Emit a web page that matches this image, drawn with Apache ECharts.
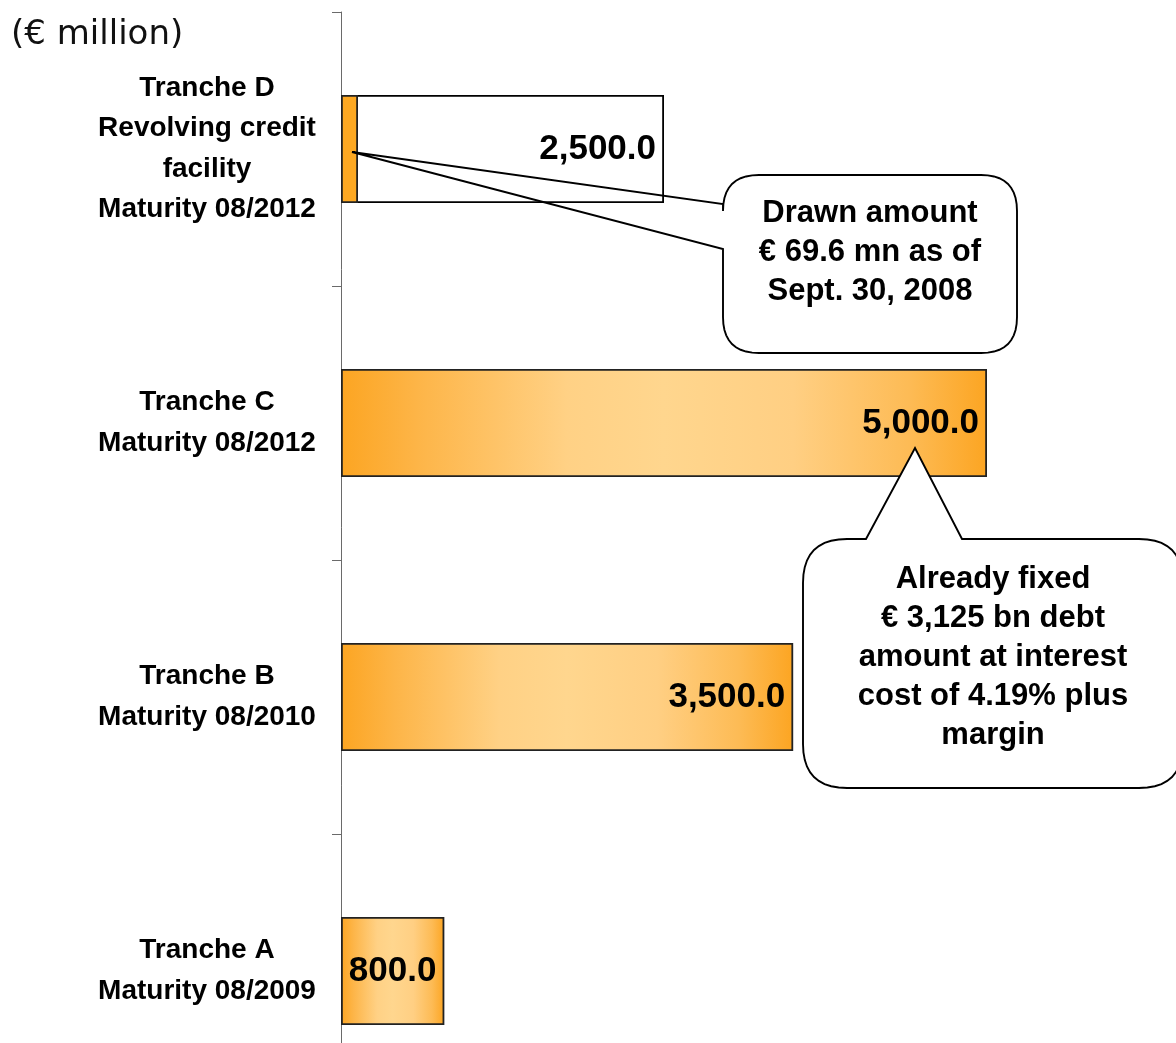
<!DOCTYPE html>
<html>
<head>
<meta charset="utf-8">
<script src="https://cdn.jsdelivr.net/npm/echarts@6/dist/echarts.min.js"></script>
<style>
html,body{margin:0;padding:0;background:#fff;}
#chart{width:1176px;height:1043px;}
</style>
</head>
<body>
<div id="chart"></div>
<script>
// ---- data ----
const categories = [
  'Tranche A\nMaturity 08/2009',
  'Tranche B\nMaturity 08/2010',
  'Tranche C\nMaturity 08/2012',
  'Tranche D\nRevolving credit\nfacility\nMaturity 08/2012'
];
const facilityAmounts = [800.0, 3500.0, 5000.0, 2500.0];
const drawnAmounts = [null, null, null, 69.6];
const unitLabel = '(€ million)';
const callout1Lines = ['Drawn amount', '€ 69.6 mn as of', 'Sept. 30, 2008'];
const callout2Lines = ['Already fixed', '€ 3,125 bn debt', 'amount at interest', 'cost of 4.19% plus', 'margin'];

const FONT = '"Liberation Sans", Arial, Helvetica, sans-serif';
const orangeGrad = {
  type: 'linear', x: 0, y: 0, x2: 1, y2: 0,
  colorStops: [
    {offset: 0, color: '#FCA522'},
    {offset: 0.12, color: '#FDB548'},
    {offset: 0.35, color: '#FFD185'},
    {offset: 0.5, color: '#FFD68E'},
    {offset: 0.7, color: '#FFCF83'},
    {offset: 0.88, color: '#FDBB55'},
    {offset: 1, color: '#FCA522'}
  ]
};
function fmt(v) {
  return v.toLocaleString('en-US', {minimumFractionDigits: 1, maximumFractionDigits: 1});
}

const chart = echarts.init(document.getElementById('chart'), null, {renderer: 'canvas'});
chart.setOption({
  animation: false,
  backgroundColor: '#fff',
  title: {
    text: unitLabel, left: 6, top: 13,
    textStyle: {fontFamily: '"DejaVu Sans", sans-serif', fontSize: 34, fontWeight: 'normal', color: '#111'}
  },
  grid: {left: 341, top: 12, width: 775.2, height: 1096, containLabel: false, outerBoundsMode: 'none'},
  xAxis: {type: 'value', min: 0, max: 6000, show: false},
  yAxis: {
    type: 'category', data: categories,
    axisLine: {show: true, lineStyle: {color: '#6a6a6a', width: 1}},
    axisTick: {show: true, length: 9, lineStyle: {color: '#6a6a6a'}},
    axisLabel: {
      margin: 134, align: 'center', color: '#000', padding: [5, 0, 0, 0],
      fontFamily: FONT, fontWeight: 'bold', fontSize: 28, lineHeight: 40.5
    },
    splitLine: {show: false}
  },
  series: [
    {
      name: 'Facility', type: 'bar', barWidth: 108, barGap: '-100%',
      data: facilityAmounts.map((v, i) => ({
        value: v,
        itemStyle: i === 3 ? {color: '#fff', borderColor: '#000', borderWidth: 1.8}
                           : {color: orangeGrad, borderColor: '#222', borderWidth: 1.8}
      })),
      label: {
        show: true, position: 'insideRight', distance: 8,
        formatter: p => fmt(p.value),
        fontFamily: FONT, fontWeight: 'bold', fontSize: 35, color: '#000'
      },
      z: 2
    },
    {
      name: 'Drawn', type: 'bar', barWidth: 108, barGap: '-100%', barMinHeight: 17,
      data: drawnAmounts.map(v => v == null ? '-' : v),
      itemStyle: {color: '#FDA822', borderColor: '#222', borderWidth: 1.8},
      z: 3
    }
  ]
});

// ---- callouts anchored to data positions ----
const P = (x, cat) => chart.convertToPixel({gridIndex: 0}, [x, cat]);
const pD = P(0, categories[3]);
const pC = P(facilityAmounts[2], categories[2]);

// quadratic corner sampler
function corner(pts, a, c, b) {
  for (let k = 1; k <= 10; k++) {
    const t = k / 10, u = 1 - t;
    pts.push([u * u * a[0] + 2 * u * t * c[0] + t * t * b[0], u * u * a[1] + 2 * u * t * c[1] + t * t * b[1]]);
  }
}
// rounded rect outline, clockwise from top-left, with optional wedge on left or top side
function bubble(x0, y0, x1, y1, r, wedge) {
  const pts = [];
  pts.push([x0 + r, y0]);
  if (wedge && wedge.side === 'top') {
    pts.push([wedge.a, y0], [wedge.tx, wedge.ty], [wedge.b, y0]);
  }
  pts.push([x1 - r, y0]);
  corner(pts, [x1 - r, y0], [x1, y0], [x1, y0 + r]);
  pts.push([x1, y1 - r]);
  corner(pts, [x1, y1 - r], [x1, y1], [x1 - r, y1]);
  pts.push([x0 + r, y1]);
  corner(pts, [x0 + r, y1], [x0, y1], [x0, y1 - r]);
  if (wedge && wedge.side === 'left') {
    pts.push([x0, wedge.b], [wedge.tx, wedge.ty], [x0, wedge.a]);
  }
  pts.push([x0, y0 + r]);
  corner(pts, [x0, y0 + r], [x0, y0], [x0 + r, y0]);
  return pts;
}

// callout 1 (relative to Tranche D centre on the axis)
const t1 = [pD[0] + 11, pD[1] + 3];
const b1 = {x0: pD[0] + 382, y0: pD[1] + 26, x1: pD[0] + 676, y1: pD[1] + 204};
// callout 2 (relative to Tranche C bar end)
const t2 = [pC[0] - 72, pC[1] + 25];
const b2 = {x0: pC[0] - 184, y0: pC[1] + 116, x1: pC[0] + 196, y1: pC[1] + 365};

chart.setOption({
  graphic: [
    {
      type: 'polygon', z: 100,
      shape: {points: bubble(b1.x0, b1.y0, b1.x1, b1.y1, 36,
        {side: 'left', a: b1.y0 + 29, b: b1.y0 + 74, tx: t1[0], ty: t1[1]})},
      style: {fill: 'rgba(255,255,255,0)', stroke: '#000', lineWidth: 1.9}
    },
    {
      type: 'text', z: 101,
      style: {
        text: callout1Lines.join('\n'), x: (b1.x0 + b1.x1) / 2, y: b1.y0 + 77,
        align: 'center', verticalAlign: 'middle', fill: '#000',
        font: 'bold 31px ' + FONT, lineHeight: 39
      }
    },
    {
      type: 'polygon', z: 100,
      shape: {points: bubble(b2.x0, b2.y0, b2.x1, b2.y1, 44,
        {side: 'top', a: b2.x0 + 63, b: b2.x0 + 159, tx: t2[0], ty: t2[1]})},
      style: {fill: '#fff', stroke: '#000', lineWidth: 1.9}
    },
    {
      type: 'text', z: 101,
      style: {
        text: callout2Lines.join('\n'), x: (b2.x0 + b2.x1) / 2, y: b2.y0 + 118,
        align: 'center', verticalAlign: 'middle', fill: '#000',
        font: 'bold 31px ' + FONT, lineHeight: 39
      }
    }
  ]
});
</script>
</body>
</html>
